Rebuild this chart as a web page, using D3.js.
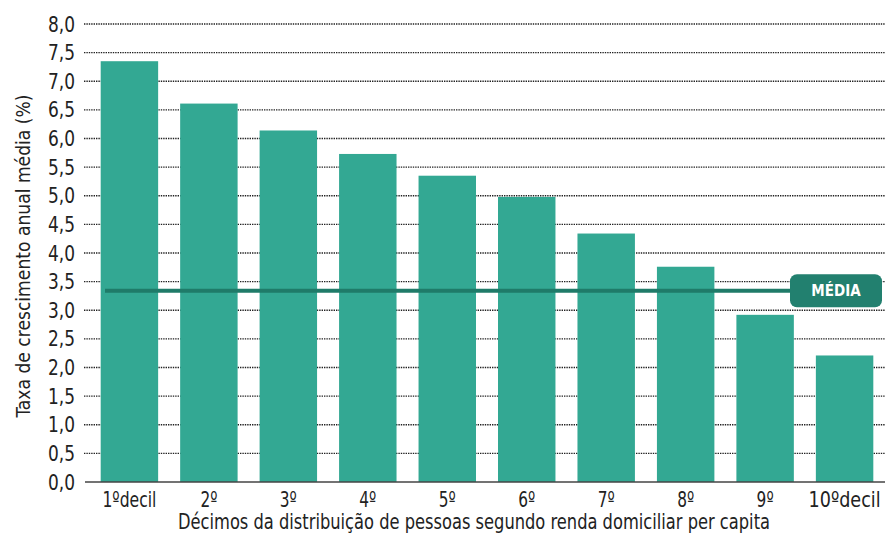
<!DOCTYPE html>
<html>
<head>
<meta charset="utf-8">
<script src="https://cdn.jsdelivr.net/npm/d3@7"></script>
<style>
  html, body { margin: 0; padding: 0; background: #fff; }
  svg { display: block; }
  text { font-family: "Liberation Sans Narrow", "DejaVu Sans Condensed", "Noto Sans", sans-serif; fill: #222; }
</style>
</head>
<body>
<svg id="chart" width="885" height="536"></svg>
<script>
// Deciles of the per-capita household income distribution
const categories = ["1ºdecil", "2º", "3º", "4º", "5º", "6º", "7º", "8º", "9º", "10ºdecil"];
// Average annual growth rate (%)
const growth = [7.35, 6.61, 6.14, 5.73, 5.35, 4.98, 4.34, 3.76, 2.92, 2.21];
// Overall average
const average = [3.34];
const averageLabel = "MÉDIA";
const yTicks = [0, 0.5, 1, 1.5, 2, 2.5, 3, 3.5, 4, 4.5, 5, 5.5, 6, 6.5, 7, 7.5, 8];
const yTitle = "Taxa de crescimento anual média (%)";
const xTitle = "Décimos da distribuição de pessoas segundo renda domiciliar per capita";

const svg = d3.select("#chart");
const plotLeft = 84, plotRight = 885, plotTop = 24, plotBottom = 482;

const x = d3.scaleBand()
  .domain(categories)
  .range([plotLeft, 890])
  .paddingInner(0.277)
  .paddingOuter(0.21);

const y = d3.scaleLinear().domain([0, 8]).range([plotBottom, plotTop]);

const fmt = d3.format(".1f");
const comma = v => fmt(v).replace(".", ",");

// dotted gridlines
svg.append("g")
  .selectAll("line")
  .data(yTicks.filter(t => t > 0))
  .join("line")
  .attr("x1", plotLeft).attr("x2", plotRight)
  .attr("y1", d => y(d)).attr("y2", d => y(d))
  .attr("stroke", "#222")
  .attr("stroke-width", 1.3)
  .attr("stroke-dasharray", "1.4,1");

// y axis tick labels
svg.append("g")
  .selectAll("text")
  .data(yTicks)
  .join("text")
  .attr("x", 75)
  .attr("y", d => y(d))
  .attr("dy", "0.36em")
  .attr("text-anchor", "end")
  .style("font-size", "21px")
  .attr("textLength", 27)
  .attr("lengthAdjust", "spacingAndGlyphs")
  .text(d => comma(d));

// bars
svg.append("g")
  .selectAll("rect")
  .data(categories.map((c, i) => ({ c, v: growth[i] })))
  .join("rect")
  .attr("x", d => x(d.c))
  .attr("width", x.bandwidth())
  .attr("y", d => y(d.v))
  .attr("height", d => y(0) - y(d.v))
  .attr("fill", "#33a893");

// baseline
svg.append("line")
  .attr("x1", 85).attr("x2", plotRight)
  .attr("y1", y(0)).attr("y2", y(0))
  .attr("stroke", "#444")
  .attr("stroke-width", 1.5);

// x tick labels
svg.append("g")
  .selectAll("text")
  .data(categories)
  .join("text")
  .attr("x", d => x(d) + x.bandwidth() / 2)
  .attr("y", 507)
  .attr("text-anchor", "middle")
  .style("font-size", "21px")
  .attr("textLength", d => d.length > 3 ? (d.length === 7 ? 54 : 72) : 17)
  .attr("lengthAdjust", "spacingAndGlyphs")
  .text(d => d);

// average line and label box
const boxX = 790, boxW = 92, boxH = 33;
svg.append("line")
  .attr("x1", 105).attr("x2", boxX + 4)
  .attr("y1", y(average[0])).attr("y2", y(average[0]))
  .attr("stroke", "#1f7b69")
  .attr("stroke-width", 4);
svg.append("rect")
  .attr("x", boxX)
  .attr("y", y(average[0]) - boxH / 2)
  .attr("width", boxW)
  .attr("height", boxH)
  .attr("rx", 7)
  .attr("fill", "#22806f");
svg.append("text")
  .attr("x", boxX + boxW / 2)
  .attr("y", y(average[0]))
  .attr("dy", "0.36em")
  .attr("text-anchor", "middle")
  .style("font-size", "15px")
  .style("font-weight", "bold")
  .style("fill", "#fff")
  .text(averageLabel);

// axis titles
svg.append("text")
  .attr("transform", "translate(30,256) rotate(-90)")
  .attr("text-anchor", "middle")
  .style("font-size", "20px")
  .attr("textLength", 323)
  .attr("lengthAdjust", "spacingAndGlyphs")
  .text(yTitle);

svg.append("text")
  .attr("x", 474)
  .attr("y", 529)
  .attr("text-anchor", "middle")
  .style("font-size", "21px")
  .attr("textLength", 592)
  .attr("lengthAdjust", "spacingAndGlyphs")
  .text(xTitle);
</script>
</body>
</html>
